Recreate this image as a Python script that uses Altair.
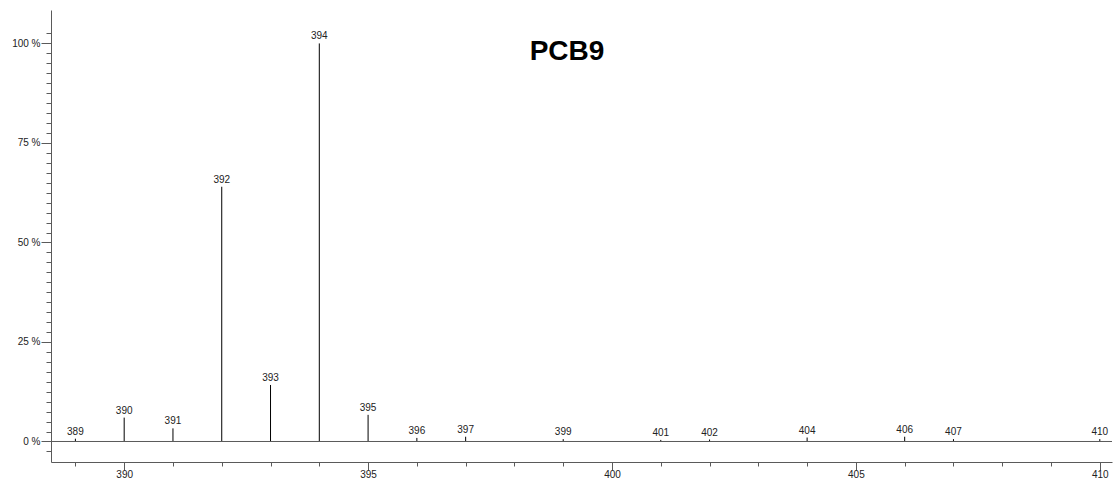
import altair as alt
import pandas as pd

# m/z values of the peaks and their relative intensities (%)
mz = [389, 390, 391, 392, 393, 394, 395, 396, 397, 399, 401, 402, 404, 406, 407, 410]
intensity = [0.7, 6.0, 3.3, 64.0, 14.2, 100.0, 6.7, 0.9, 1.2, 0.6, 0.4, 0.5, 1.0, 1.2, 0.6, 0.6]
peak_labels = [str(v) for v in mz]

x_ticks = list(range(389, 411))
y_ticks = [v * 2.5 for v in range(-1, 42)]
title_text = "PCB9"

df = pd.DataFrame({"mz": mz, "intensity": intensity, "label": peak_labels})

FONT = "Liberation Sans"
AX = "#5a5a5a"

x_scale = alt.Scale(domain=[388.5, 410.25], nice=False, zero=False)
y_scale = alt.Scale(domain=[-5.15, 108.4], nice=False, zero=False)

x_axis = alt.Axis(
    values=x_ticks,
    labelExpr="datum.value % 5 === 0 ? datum.label : ''",
    tickSize={"expr": "datum.value % 5 === 0 ? 8 : 4"},
    labelPadding=-1,
    labelFont=FONT,
    labelFontSize=10,
    labelColor="#222",
    domainColor=AX,
    tickColor=AX,
    grid=False,
    title=None,
    labelFlush=False,
    labelOverlap=False,
)
y_axis = alt.Axis(
    values=y_ticks,
    labelExpr="datum.value % 25 === 0 ? datum.value + ' %' : ''",
    tickSize={"expr": "datum.value % 25 === 0 ? 10 : 5"},
    labelPadding=1,
    labelFont=FONT,
    labelFontSize=10,
    labelColor="#222",
    domainColor=AX,
    tickColor=AX,
    grid=False,
    title=None,
    labelOverlap=False,
)

base = alt.Chart(df)

peaks = base.mark_rule(color="black", strokeWidth=1).encode(
    x=alt.X("mz:Q", scale=x_scale, axis=x_axis),
    y=alt.Y("intensity:Q", scale=y_scale, axis=y_axis),
    y2=alt.datum(0),
)

labels = base.mark_text(
    font=FONT, fontSize=10, color="#222", baseline="alphabetic", dy=-4
).encode(
    x=alt.X("mz:Q", scale=x_scale, axis=x_axis),
    y=alt.Y("intensity:Q", scale=y_scale, axis=y_axis),
    text="label:N",
)

baseline = alt.Chart(pd.DataFrame({"v": [0]})).mark_rule(color=AX, strokeWidth=1).encode(
    y=alt.Y("v:Q", scale=y_scale, axis=y_axis)
)

title = alt.Chart(pd.DataFrame({"t": [title_text]})).mark_text(
    font=FONT, fontSize=28, fontWeight="bold", color="black",
    align="center", baseline="alphabetic"
).encode(
    x=alt.value(516), y=alt.value(50), text="t:N"
)

chart = (
    alt.layer(peaks, labels, baseline, title)
    .properties(
        width=1061,
        height=452,
        autosize=alt.AutoSizeParams(type="none"),
        padding={"left": 51, "top": 10, "right": 2, "bottom": 20},
        background="white",
    )
    .configure_view(stroke=None)
)

chart.save("out.html", embed_options={"renderer": "svg", "actions": False})
